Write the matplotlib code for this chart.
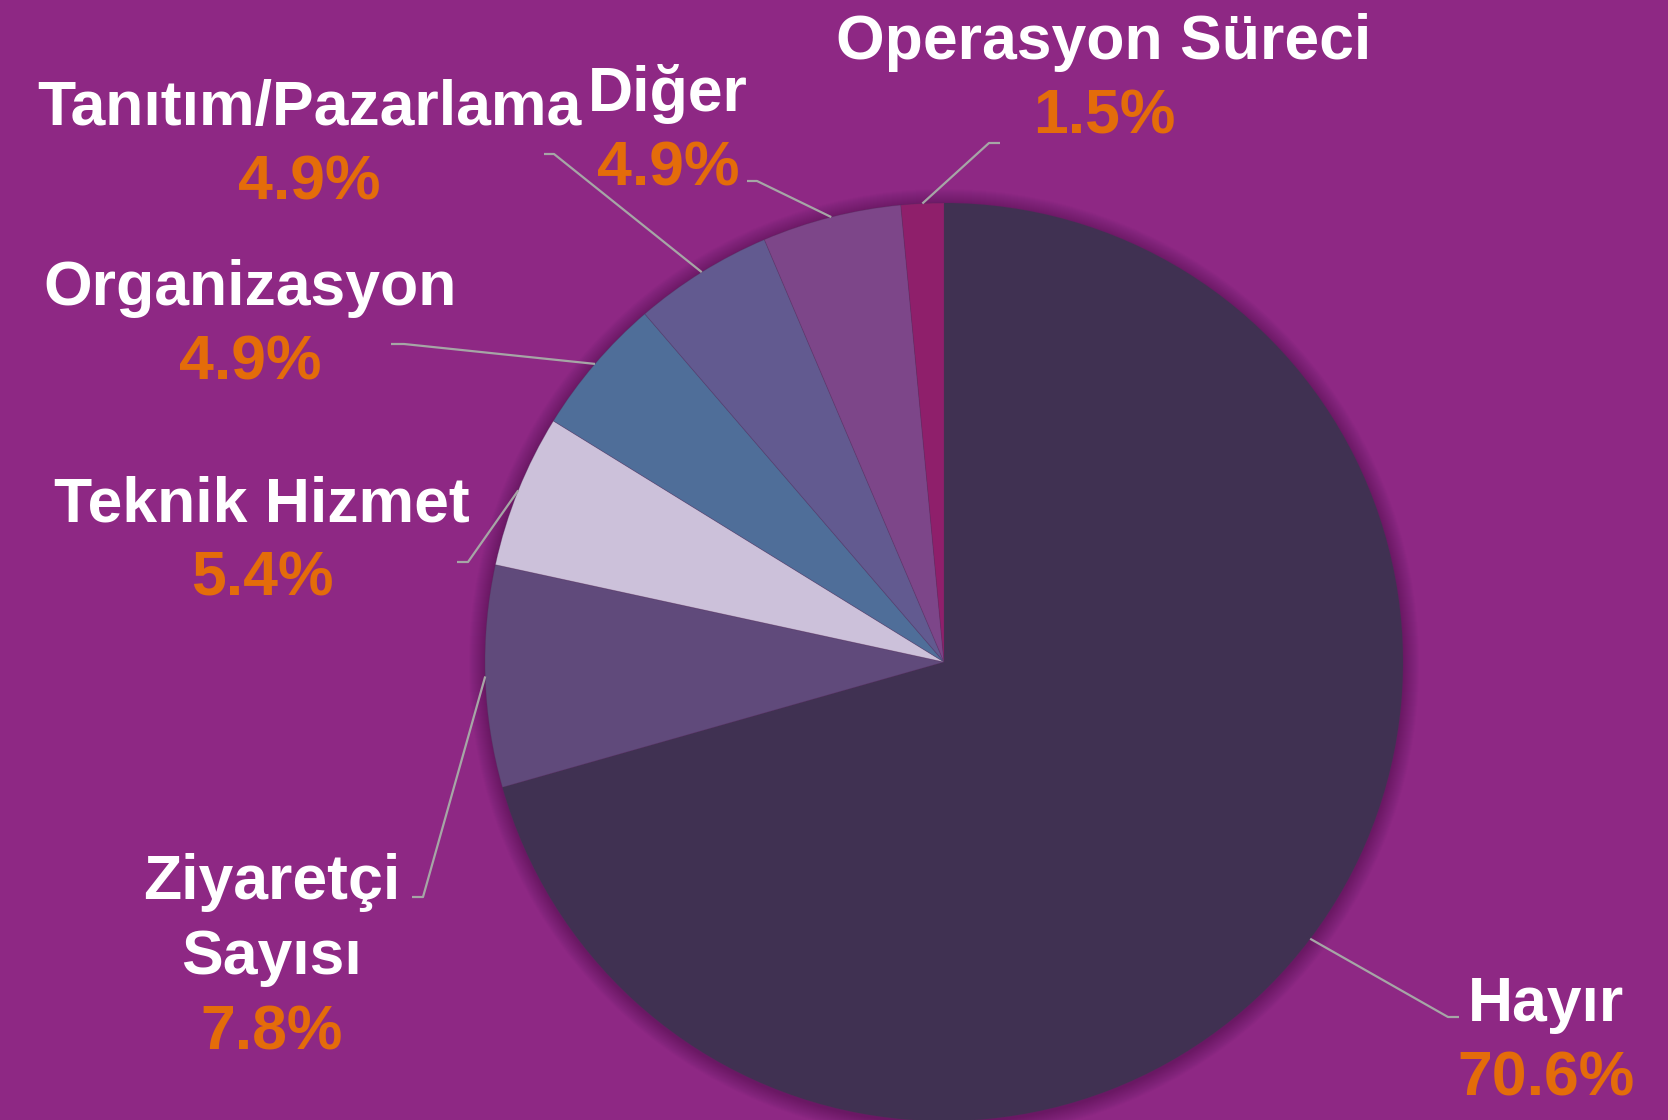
import matplotlib
matplotlib.use("Agg")
import matplotlib.pyplot as plt
from matplotlib.patches import Circle
import numpy as np

# ---- data ----
categories = ["Hayır", "Ziyaretçi\nSayısı", "Teknik Hizmet", "Organizasyon",
              "Tanıtım/Pazarlama", "Diğer", "Operasyon Süreci"]
values = [70.6, 7.8, 5.4, 4.9, 4.9, 4.9, 1.5]
colors = ["#403152", "#604A7B", "#CCC1DA", "#4F6E99", "#625A90", "#7D4689", "#8F1F6B"]

# ---- layout (pixel coords, y measured from top) ----
W, H = 1668, 1120
center_px = (944, 662)
radius_px = 459
# label x-centre, first-line baseline, elbow point of leader line, leader end x
label_pos = [
    (1546, 1021, (1448, 1017), 1459),
    (272, 899, (423, 897), 412),
    (262, 521, (468, 562), 457),
    (250, 305, (404, 344), 391),
    (309, 125, (554, 154), 544),
    (668, 111, (757, 181), 747),
    (1104, 59, (989, 143), 1000),
]
line_step = 75

bg = "#8E2884"
fs = 45
fam = ["Liberation Sans", "DejaVu Sans"]

fig = plt.figure(figsize=(W / 100, H / 100), dpi=100, facecolor=bg)
ax = fig.add_axes([0, 0, 1, 1])
ax.set_xlim(0, W)
ax.set_ylim(0, H)
ax.set_aspect("equal")
ax.axis("off")
ax.set_facecolor(bg)

def Y(y):
    return H - y

cx, cy = center_px[0], Y(center_px[1])

# soft shadow/glow around the pie
for k in range(1, 17):
    ax.add_patch(Circle((cx, cy - 2), radius_px + k, facecolor="#3c1040",
                        edgecolor="none", alpha=0.028, zorder=1))

wedges, _ = ax.pie(values, colors=colors, startangle=90, counterclock=False,
                   center=(cx, cy), radius=radius_px, frame=True,
                   wedgeprops=dict(linewidth=0.6, edgecolor=(0.3, 0.2, 0.35, 0.3)))
for w in wedges:
    w.set_zorder(2)
ax.set_xlim(0, W)
ax.set_ylim(0, H)
ax.axis("off")

for w, cat, val, (lx, by, elbow, endx) in zip(wedges, categories, values, label_pos):
    mid = np.deg2rad((w.theta1 + w.theta2) / 2)
    sx = cx + radius_px * np.cos(mid)
    sy = cy + radius_px * np.sin(mid)
    ax.plot([sx, elbow[0], endx], [sy, Y(elbow[1]), Y(elbow[1])],
            color="#A6A6A6", lw=1.6, zorder=3, solid_capstyle="butt")
    lines = cat.split("\n")
    for i, ln in enumerate(lines):
        ax.text(lx, Y(by + i * line_step), ln, ha="center", va="baseline",
                fontsize=fs, fontweight="bold", color="white", family=fam, zorder=4)
    ax.text(lx, Y(by + len(lines) * line_step), f"{val:.1f}%", ha="center",
            va="baseline", fontsize=fs, fontweight="bold", color="#E46C0A",
            family=fam, zorder=4)

fig.savefig("out.png", dpi=100, facecolor=bg)
